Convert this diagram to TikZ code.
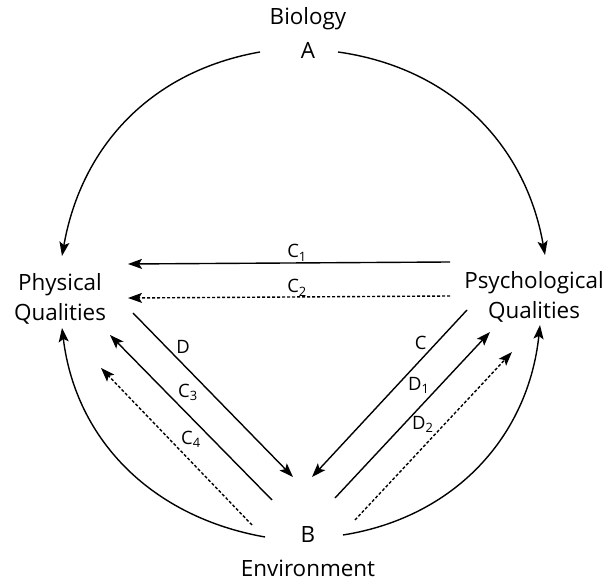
\documentclass[tikz,border=0pt]{standalone}
\usepackage{fontspec}
\setmainfont{Open Sans}
\usetikzlibrary{arrows.meta}
\begin{document}
\begin{tikzpicture}[x=1bp, y=1bp,
  txt/.style={align=center, font=\fontsize{22.5}{30}\selectfont, inner sep=0pt},
  lab/.style={font=\fontsize{18.5}{20}\selectfont, inner sep=1bp},
  link/.style={line width=1.4bp, -{Stealth[length=14bp, width=10bp, inset=3bp]}},
  dotlink/.style={link, dash pattern=on 3bp off 2bp}]
  \useasboundingbox (0,0) rectangle (608,582);
  % texts
  \node[txt] (bio) at (308,563) {Biology};
  \node[txt] (A) at (308,532) {A};
  \node[txt] (phys) at (60,283) {Physical\\Qualities};
  \node[txt] (psy) at (534,285) {Psychological\\Qualities};
  \node[txt] (B) at (308,47) {B};
  \node[txt] (env) at (308,14) {Environment};
  % ends of the outer arcs
  \coordinate (A-l) at (260,530);
  \coordinate (A-r) at (338,530);
  \coordinate (phys-t) at (62,326);
  \coordinate (phys-b) at (62,254);
  \coordinate (psy-t) at (545,327);
  \coordinate (psy-b) at (540,257);
  \coordinate (B-l) at (265,45);
  \coordinate (B-r) at (343,47);
  \draw[link] (A-l) to[out=190, in=80] (phys-t);
  \draw[link] (A-r) to[out=-8, in=100] (psy-t);
  \draw[link] (B-l) to[out=170, in=-83] (phys-b);
  \draw[link] (B-r) to[out=9, in=-96] (psy-b);
  % ends of the inner lines
  \coordinate (c1-s) at (450,320);  \coordinate (c1-e) at (128,318);
  \coordinate (c2-s) at (450,286);  \coordinate (c2-e) at (128,284);
  \coordinate (d-s) at (133,269);   \coordinate (d-e) at (293,105);
  \coordinate (c3-s) at (272,82);   \coordinate (c3-e) at (110,247);
  \coordinate (c4-s) at (252,57);   \coordinate (c4-e) at (101,214);
  \coordinate (c-s) at (467,272);   \coordinate (c-e) at (312,105);
  \coordinate (d1-s) at (335,84);   \coordinate (d1-e) at (490,250);
  \coordinate (d2-s) at (355,62);   \coordinate (d2-e) at (512,230);
  \draw[link] (c1-s) -- node[lab, pos=.475, anchor=south] {C\textsubscript{1}} (c1-e);
  \draw[dotlink] (c2-s) -- node[lab, pos=.475, anchor=south, inner sep=0pt] {C\textsubscript{2}} (c2-e);
  \draw[link] (d-s) -- node[lab, pos=.26, anchor=south west] {D} (d-e);
  \draw[link] (c3-s) -- node[lab, pos=.59, anchor=south west] {C\textsubscript{3}} (c3-e);
  \draw[dotlink] (c4-s) -- node[lab, pos=.48, anchor=south west] {C\textsubscript{4}} (c4-e);
  \draw[link] (c-s) -- node[lab, pos=.25, anchor=south east] {C} (c-e);
  \draw[link] (d1-s) -- node[lab, pos=.62, anchor=south east] {D\textsubscript{1}} (d1-e);
  \draw[dotlink] (d2-s) -- node[lab, pos=.51, anchor=south east] {D\textsubscript{2}} (d2-e);
\end{tikzpicture}
\end{document}
